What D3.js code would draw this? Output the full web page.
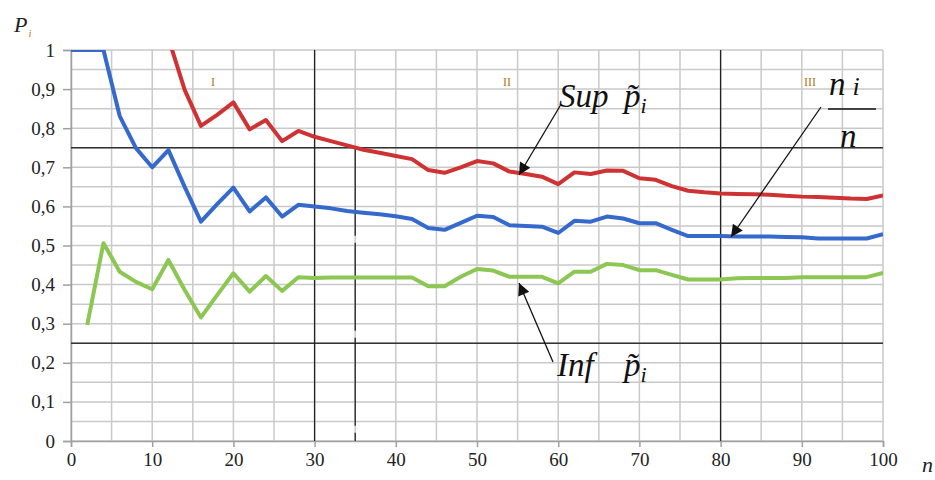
<!DOCTYPE html>
<html lang="en">
<head>
  <meta charset="UTF-8">
  <title>P_i vs n</title>
  <script src="https://d3js.org/d3.v7.min.js"></script>
  <style>
    body { margin: 0; background: #fff; }
    svg { display: block; }
    text { font-family: "Times New Roman", "Liberation Serif", "DejaVu Serif", "Noto Serif", serif; }
  </style>
</head>
<body>
  <svg id="chart" width="935" height="480"></svg>
  <script>
// n values for each series (step 2)
const nBlue = [0, 2, 4, 6, 8, 10, 12, 14, 16, 18, 20, 22, 24, 26, 28, 30, 32, 34, 36, 38, 40,
  42, 44, 46, 48, 50, 52, 54, 56, 58, 60, 62, 64, 66, 68, 70, 72, 74, 76, 78, 80,
  82, 84, 86, 88, 90, 92, 94, 96, 98, 100];
const blueValues = [1, 1, 1, 0.831, 0.749, 0.70, 0.744, 0.65, 0.561, 0.606, 0.648, 0.587, 0.623, 0.574, 0.604,
  0.60, 0.595, 0.588, 0.584, 0.58, 0.575, 0.568, 0.545, 0.54, 0.558, 0.576, 0.573, 0.552, 0.55, 0.548,
  0.532, 0.563, 0.561, 0.574, 0.569, 0.557, 0.557, 0.54, 0.524, 0.524, 0.524, 0.523, 0.523, 0.523,
  0.522, 0.521, 0.518, 0.518, 0.518, 0.518, 0.529];

const nRed = [12, 14, 16, 18, 20, 22, 24, 26, 28, 30, 32, 34, 36, 38, 40,
  42, 44, 46, 48, 50, 52, 54, 56, 58, 60, 62, 64, 66, 68, 70, 72, 74, 76, 78, 80,
  82, 84, 86, 88, 90, 92, 94, 96, 98, 100];
const redValues = [1.03, 0.898, 0.806, 0.834, 0.866, 0.797, 0.821, 0.767, 0.793, 0.778, 0.767, 0.756, 0.745,
  0.737, 0.729, 0.721, 0.693, 0.686, 0.70, 0.716, 0.71, 0.689, 0.683, 0.676, 0.657, 0.687, 0.683, 0.692,
  0.691, 0.672, 0.668, 0.652, 0.64, 0.636, 0.633, 0.632, 0.631, 0.63, 0.627, 0.625, 0.624, 0.622,
  0.62, 0.619, 0.628];

const nGreen = [2, 4, 6, 8, 10, 12, 14, 16, 18, 20, 22, 24, 26, 28, 30, 32, 34, 36, 38, 40,
  42, 44, 46, 48, 50, 52, 54, 56, 58, 60, 62, 64, 66, 68, 70, 72, 74, 76, 78, 80,
  82, 84, 86, 88, 90, 92, 94, 96, 98, 100];
const greenValues = [0.297, 0.506, 0.433, 0.407, 0.388, 0.463, 0.386, 0.316, 0.373, 0.429, 0.382, 0.422,
  0.384, 0.419, 0.417, 0.418, 0.418, 0.418, 0.418, 0.418, 0.418, 0.396, 0.396, 0.42, 0.44, 0.436, 0.42,
  0.42, 0.42, 0.403, 0.433, 0.433, 0.453, 0.45, 0.437, 0.437, 0.425, 0.413, 0.413, 0.413, 0.416, 0.417,
  0.417, 0.417, 0.419, 0.419, 0.419, 0.419, 0.419, 0.43];

const xTicks = [0, 10, 20, 30, 40, 50, 60, 70, 80, 90, 100];
const yTicks = [0, 0.1, 0.2, 0.3, 0.4, 0.5, 0.6, 0.7, 0.8, 0.9, 1];
const xGrid = [0, 5, 10, 15, 20, 25, 30, 35, 40, 45, 50, 55, 60, 65, 70, 75, 80, 85, 90, 95, 100];
const yGrid = [0, 0.05, 0.1, 0.15, 0.2, 0.25, 0.3, 0.35, 0.4, 0.45, 0.5, 0.55, 0.6, 0.65, 0.7,
  0.75, 0.8, 0.85, 0.9, 0.95, 1];
const zoneX = [30, 80];       // solid vertical dividers
const zoneDash = [35];        // dashed divider
const zoneY = [0.75, 0.25];   // solid horizontal dividers
const zoneLabels = [{ n: 17.5, text: "I" }, { n: 53.7, text: "II" }, { n: 91, text: "III" }];

const serif = "'Times New Roman', 'Liberation Serif', 'DejaVu Serif', serif";

const svg = d3.select("#chart");
const margin = { top: 50, right: 52, bottom: 39, left: 71 };
const width = +svg.attr("width") - margin.left - margin.right;
const height = +svg.attr("height") - margin.top - margin.bottom;

const x = d3.scaleLinear().domain([0, 100]).range([0, width]);
const y = d3.scaleLinear().domain([0, 1]).range([height, 0]);

const g = svg.append("g").attr("transform", `translate(${margin.left},${margin.top})`);

svg.append("defs").append("clipPath").attr("id", "plot")
  .append("rect").attr("width", width).attr("height", height);

// grid
g.append("g").selectAll("line").data(yGrid).enter().append("line")
  .attr("x1", 0).attr("x2", width)
  .attr("y1", d => y(d)).attr("y2", d => y(d))
  .attr("stroke", "#c9c9c9").attr("stroke-width", 1.5);
g.append("g").selectAll("line").data(xGrid).enter().append("line")
  .attr("x1", d => x(d)).attr("x2", d => x(d))
  .attr("y1", 0).attr("y2", height)
  .attr("stroke", "#c9c9c9").attr("stroke-width", 1.5);

// axes
const xAxis = g.append("g").attr("transform", `translate(0,${height})`)
  .call(d3.axisBottom(x).tickValues(xTicks).tickSize(6).tickPadding(6).tickFormat(d3.format("d")));
const yAxis = g.append("g")
  .call(d3.axisLeft(y).tickValues(yTicks).tickSize(8).tickPadding(8)
    .tickFormat(d => d === 0 || d === 1 ? String(d) : d3.format(".1f")(d).replace(".", ",")));
[xAxis, yAxis].forEach(a => {
  a.attr("font-family", serif).attr("font-size", 19);
  a.select(".domain").attr("stroke", "#a0a0a0").attr("stroke-width", 1.5);
  a.selectAll(".tick line").attr("stroke", "#a0a0a0").attr("stroke-width", 1.5);
  a.selectAll(".tick text").attr("fill", "#222");
});

// zone dividers
g.append("g").selectAll("line").data(zoneY).enter().append("line")
  .attr("x1", 0).attr("x2", width)
  .attr("y1", d => y(d)).attr("y2", d => y(d))
  .attr("stroke", "#333").attr("stroke-width", 1.5);
g.append("g").selectAll("line").data(zoneX).enter().append("line")
  .attr("x1", d => x(d)).attr("x2", d => x(d))
  .attr("y1", 0).attr("y2", height)
  .attr("stroke", "#222").attr("stroke-width", 1.3);
g.append("g").selectAll("line").data(zoneDash).enter().append("line")
  .attr("x1", d => x(d)).attr("x2", d => x(d))
  .attr("y1", y(0.75)).attr("y2", height)
  .attr("stroke", "#222").attr("stroke-width", 1.3)
  .attr("stroke-dasharray", "88,7");

g.append("g").selectAll("text").data(zoneLabels).enter().append("text")
  .attr("x", d => x(d.n)).attr("y", 36)
  .attr("text-anchor", "middle")
  .attr("font-size", 12).attr("fill", "#b07a20")
  .text(d => d.text);

// series
const line = d3.line().x(d => x(d[0])).y(d => y(d[1]));
const series = [
  { n: nGreen, v: greenValues, color: "#8cc653" },
  { n: nBlue, v: blueValues, color: "#3569cc" },
  { n: nRed, v: redValues, color: "#cf3232" }
];
g.append("g").attr("clip-path", "url(#plot)")
  .selectAll("path").data(series).enter().append("path")
  .attr("d", s => line(d3.zip(s.n, s.v)))
  .attr("fill", "none")
  .attr("stroke", s => s.color)
  .attr("stroke-width", 4)
  .attr("stroke-linejoin", "round");

// axis titles
svg.append("text").attr("x", 14).attr("y", 32)
  .attr("font-size", 22).attr("font-style", "italic").attr("fill", "#222")
  .text("P")
  .append("tspan").attr("dx", 1).attr("dy", 5).attr("font-size", 11).attr("fill", "#c07820").text("i");
svg.append("text").attr("x", 922).attr("y", 472)
  .attr("font-size", 22).attr("font-style", "italic").attr("fill", "#222").text("n");

// annotations
svg.append("defs").append("marker")
  .attr("id", "arrow").attr("viewBox", "0 0 10 10")
  .attr("refX", 10).attr("refY", 5)
  .attr("markerWidth", 16).attr("markerHeight", 12)
  .attr("markerUnits", "userSpaceOnUse")
  .attr("orient", "auto")
  .append("path").attr("d", "M0,0 L10,5 L0,10 Z").attr("fill", "#111");

const arrows = [
  { x1: 560, y1: 106, x2: 519, y2: 175 },
  { x1: 821, y1: 107, x2: 731, y2: 237 },
  { x1: 553, y1: 362, x2: 519, y2: 283 }
];
svg.append("g").selectAll("line").data(arrows).enter().append("line")
  .attr("x1", d => d.x1).attr("y1", d => d.y1)
  .attr("x2", d => d.x2).attr("y2", d => d.y2)
  .attr("stroke", "#111").attr("stroke-width", 1.3)
  .attr("marker-end", "url(#arrow)");

function label(xp, yb, word) {
  const t = svg.append("text").attr("x", xp).attr("y", yb)
    .attr("font-size", 33).attr("font-style", "italic").attr("fill", "#111");
  t.append("tspan").text(word);
  t.append("tspan").attr("x", 624).text("p\u0303");
  t.append("tspan").attr("dy", 6).attr("font-size", 22).text("i");
}
label(559, 107, "Sup");
label(557, 376, "Inf");

const frac = svg.append("text").attr("x", 829).attr("y", 95)
  .attr("font-size", 33).attr("font-style", "italic").attr("fill", "#111");
frac.append("tspan").text("n");
frac.append("tspan").attr("dx", 7).attr("font-size", 26).text("i");
svg.append("line").attr("x1", 828).attr("x2", 876).attr("y1", 109).attr("y2", 109)
  .attr("stroke", "#111").attr("stroke-width", 1.5);
svg.append("text").attr("x", 840).attr("y", 147)
  .attr("font-size", 33).attr("font-style", "italic").attr("fill", "#111").text("n");
  </script>
</body>
</html>
